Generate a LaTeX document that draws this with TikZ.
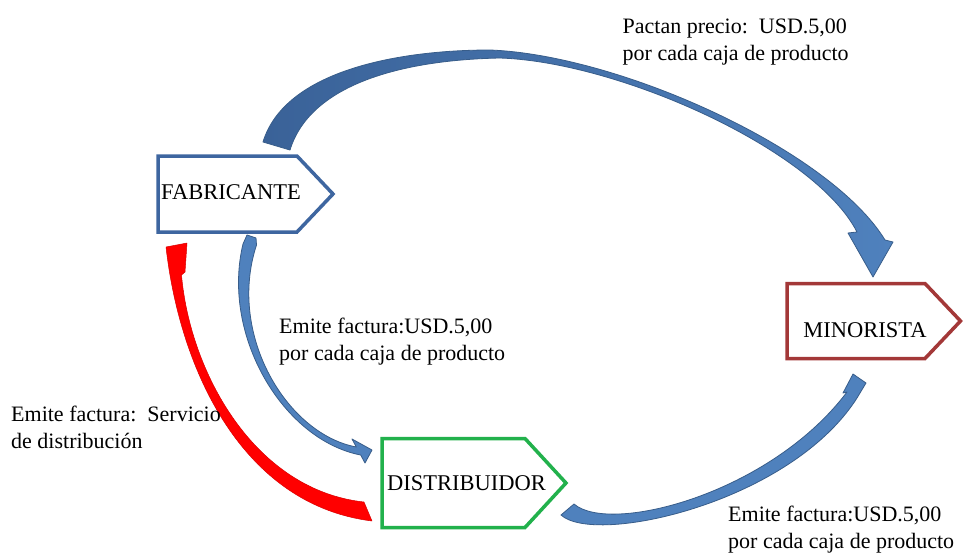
\documentclass[tikz,border=0pt]{standalone}
\usepackage{fontspec}
\setmainfont{Liberation Serif}
\definecolor{fabblue}{RGB}{62,102,160}
\definecolor{minred}{RGB}{163,56,56}
\definecolor{disgreen}{RGB}{34,177,76}
\definecolor{arrowblue}{RGB}{79,129,189}
\definecolor{arrowedge}{RGB}{56,93,138}
\definecolor{bigdark}{RGB}{58,98,152}
\definecolor{arrowred}{RGB}{255,0,0}
\begin{document}
\begin{tikzpicture}[x=1pt,y=-1pt,
  boxtext/.style={font=\fontsize{22.5}{27}\selectfont, inner sep=0pt, anchor=base},
  lbl/.style={font=\fontsize{22}{26.5}\selectfont, inner sep=0pt, anchor=base west},
  boxline/.style={line width=3.5pt, line join=miter, fill=white},
  thinarrow/.style={fill=arrowblue, draw=arrowedge, line width=0.8pt, line join=round},
  bigarrow/.style={draw=arrowedge, line width=0.8pt, line join=round, left color=bigdark, right color=arrowblue},
  redarrow/.style={fill=arrowred, draw=arrowred!85!black, line width=0.5pt, line join=round}
]
\fill[white] (0,0) rectangle (964,552);
\useasboundingbox (0,0) rectangle (964,552);

% boxes
\draw[boxline, draw=fabblue] (158,156) -- (297,156) -- (333,194) -- (297,232) -- (158,232) -- cycle;
\draw[boxline, draw=minred] (787,283.5) -- (925,283.5) -- (960.5,321) -- (925,358.5) -- (787,358.5) -- cycle;
\draw[boxline, draw=disgreen] (382,438.5) -- (525,438.5) -- (566,483) -- (525,527.5) -- (382,527.5) -- cycle;

\node[boxtext] (fab) at (231,199.5) {FABRICANTE};
\node[boxtext] (min) at (865,337) {MINORISTA};
\node[boxtext] (dis) at (466.5,490.5) {DISTRIBUIDOR};

% big arrow FABRICANTE -> MINORISTA
\path[bigarrow] (263,142) .. controls (285,70) and (400,50) .. (490,50)
  .. controls (620,55) and (830,150) .. (885,240)
  -- (893,242) -- (873,277) -- (848,233) -- (857,232)
  .. controls (815,150) and (620,62) .. (500,58)
  .. controls (400,60) and (310,85) .. (290,150) -- cycle;

% FABRICANTE -> DISTRIBUIDOR
\path[thinarrow] (243,244) -- (247,235) -- (256,238) -- (256.5,245)
  .. controls (227,334.6) and (287,434.1) .. (356.3,447)
  -- (352,439) -- (372,450) -- (365,463) -- (360.7,455)
  .. controls (283,439.9) and (221,335.4) .. (243,244) -- cycle;

% DISTRIBUIDOR -> FABRICANTE (red)
\path[redarrow] (166,247) -- (187,243) -- (185,272) -- (181.5,275)
  .. controls (190,372) and (254,490) .. (364,502)
  -- (372,521)
  .. controls (243,505) and (180,371) .. (166,247) -- cycle;

% DISTRIBUIDOR -> MINORISTA
\path[thinarrow] (561,515) .. controls (595,546) and (790,503) .. (857,398)
  -- (866,383) -- (853,374) -- (843,393) -- (847,392)
  .. controls (770,494) and (610,535) .. (574,504) -- cycle;

% labels
\node[lbl] (pactan) at (622.5,33.5) {\begin{tabular}[t]{@{}l@{}}Pactan precio:\ \ USD.5,00\\por cada caja de producto\end{tabular}};
\node[lbl] (emiteA) at (279,333.5) {\begin{tabular}[t]{@{}l@{}}Emite factura:USD.5,00\\por cada caja de producto\end{tabular}};
\node[lbl] (emiteB) at (11,421.5) {\begin{tabular}[t]{@{}l@{}}Emite factura:\ \ Servicio\\de distribución\end{tabular}};
\node[lbl] (emiteC) at (728,521.5) {\begin{tabular}[t]{@{}l@{}}Emite factura:USD.5,00\\por cada caja de producto\end{tabular}};
\end{tikzpicture}
\end{document}
